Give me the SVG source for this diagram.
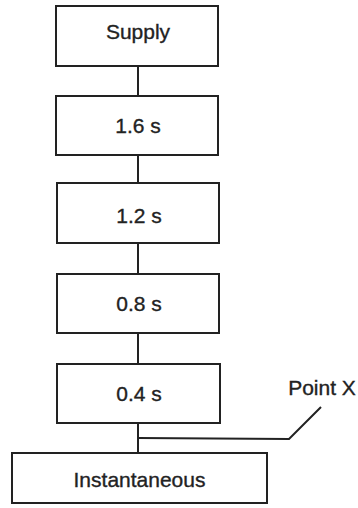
<svg xmlns="http://www.w3.org/2000/svg" width="358" height="508" viewBox="0 0 358 508">
<style>
.box{fill:#fff;stroke:#222;stroke-width:2}
.lbl{font-family:"Liberation Sans",Arial,sans-serif;font-size:21px;fill:#222;stroke:#222;stroke-width:0.35;text-anchor:middle}
.con{fill:none;stroke:#222;stroke-width:2}
</style>
<rect width="358" height="508" fill="#fff"/>
<g id="connectors">
<line class="con" x1="138" y1="66" x2="138" y2="96"/>
<line class="con" x1="138" y1="155" x2="138" y2="183"/>
<line class="con" x1="138" y1="243" x2="138" y2="274"/>
<line class="con" x1="138" y1="333" x2="138" y2="364"/>
<line class="con" x1="138" y1="423" x2="138" y2="453"/>
<polyline class="con" points="138,438 289,439 321,407"/>
</g>
<g id="supply"><rect class="box" x="56" y="6" width="162" height="60"/><text class="lbl" x="138" y="39">Supply</text></g>
<g id="t16"><rect class="box" x="56" y="96" width="162" height="59"/><text class="lbl" x="138" y="133">1.6 s</text></g>
<g id="t12"><rect class="box" x="57" y="183" width="162" height="60"/><text class="lbl" x="139" y="223">1.2 s</text></g>
<g id="t08"><rect class="box" x="57" y="274" width="162" height="59"/><text class="lbl" x="139" y="311">0.8 s</text></g>
<g id="t04"><rect class="box" x="57" y="364" width="163" height="59"/><text class="lbl" x="139" y="401">0.4 s</text></g>
<g id="inst"><rect class="box" x="12" y="453" width="255" height="50"/><text class="lbl" x="139.5" y="487">Instantaneous</text></g>
<g id="pointx"><text class="lbl" x="322" y="395">Point X</text></g>
</svg>
